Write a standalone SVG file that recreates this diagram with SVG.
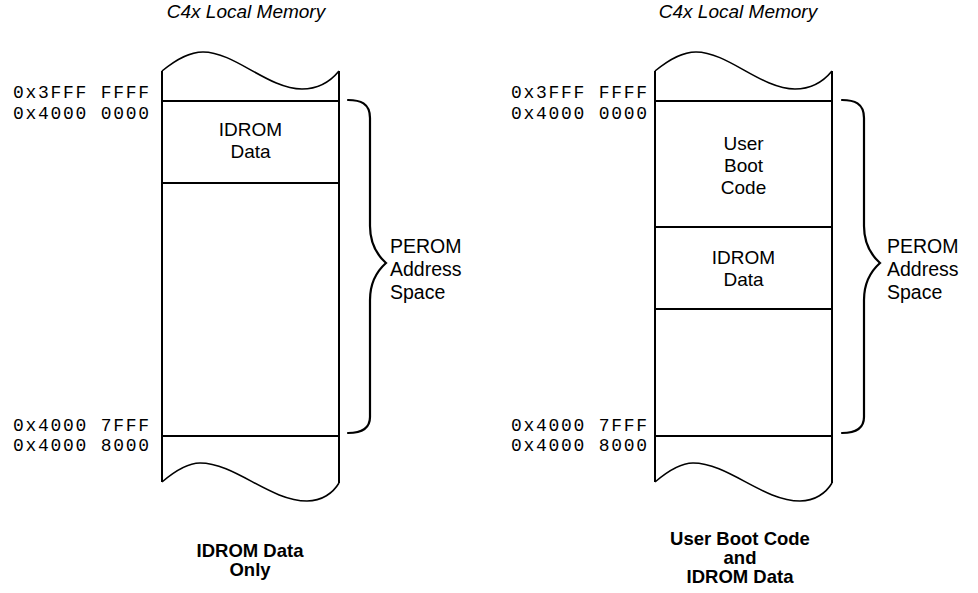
<svg xmlns="http://www.w3.org/2000/svg" width="978" height="593" viewBox="0 0 978 593">
<style>
.box{fill:none;stroke:#000;stroke-width:2}
.wave{fill:none;stroke:#000;stroke-width:1.6}
.brace{fill:none;stroke:#000;stroke-width:2.2;stroke-linecap:round}
.t{font-family:"Liberation Sans",Arial,sans-serif;font-size:19px;text-anchor:middle;fill:#000}
.side{font-family:"Liberation Sans",Arial,sans-serif;font-size:19.5px;fill:#000}
.title{font-family:"Liberation Sans",Arial,sans-serif;font-size:19px;font-style:italic;text-anchor:middle;fill:#000}
.cap{font-family:"Liberation Sans",Arial,sans-serif;font-size:18.5px;font-weight:bold;text-anchor:middle;fill:#000}
.addr{font-family:"Liberation Mono","Courier New",monospace;font-size:18px;fill:#000}
</style>
<defs>
<g id="col">
<path class="wave" d="M0,71 C16,58 28,52 41,52 C73,52 106,89 140,89 C156,89 168,82 177,71"/>
<path class="wave" d="M0,482 C14,470 26,463 38,463 C73,463 108,501 145,501 C160,501 171,493 177,483"/>
<line class="box" x1="0" y1="71" x2="0" y2="482"/>
<line class="box" x1="177" y1="71" x2="177" y2="483"/>
<line class="box" x1="0" y1="101" x2="177" y2="101"/>
<line class="box" x1="0" y1="436" x2="177" y2="436"/>
</g>
<path id="br" class="brace" d="M0,100 C12,100 22,103 22,118 L22,226 C22,244 29,255 38,263 C29,271 22,282 22,300 L22,417 C22,430 12,433 0,433"/>
</defs>

<g id="left-memory">
<use href="#col" x="162"/>
<line class="box" x1="162" y1="183" x2="339" y2="183"/>
<text class="title" x="246" y="18">C4x Local Memory</text>
<text class="t" x="250.5" y="136">IDROM</text>
<text class="t" x="250.5" y="158">Data</text>
<text class="addr" x="13" y="98" textLength="136" lengthAdjust="spacing">0x3FFF FFFF</text>
<text class="addr" x="13" y="119" textLength="136" lengthAdjust="spacing">0x4000 0000</text>
<text class="addr" x="13" y="431" textLength="136" lengthAdjust="spacing">0x4000 7FFF</text>
<text class="addr" x="13" y="451" textLength="136" lengthAdjust="spacing">0x4000 8000</text>
<text class="cap" x="250" y="557">IDROM Data</text>
<text class="cap" x="250" y="576">Only</text>
</g>

<g id="right-memory">
<use href="#col" x="655"/>
<line class="box" x1="655" y1="227" x2="832" y2="227"/>
<line class="box" x1="655" y1="309" x2="832" y2="309"/>
<text class="title" x="738" y="18">C4x Local Memory</text>
<text class="t" x="743.5" y="150">User</text>
<text class="t" x="743.5" y="172">Boot</text>
<text class="t" x="743.5" y="194">Code</text>
<text class="t" x="743.5" y="264">IDROM</text>
<text class="t" x="743.5" y="286">Data</text>
<text class="addr" x="511" y="98" textLength="136" lengthAdjust="spacing">0x3FFF FFFF</text>
<text class="addr" x="511" y="119" textLength="136" lengthAdjust="spacing">0x4000 0000</text>
<text class="addr" x="511" y="431" textLength="136" lengthAdjust="spacing">0x4000 7FFF</text>
<text class="addr" x="511" y="451" textLength="136" lengthAdjust="spacing">0x4000 8000</text>
<text class="cap" x="740" y="545">User Boot Code</text>
<text class="cap" x="740" y="564">and</text>
<text class="cap" x="740" y="583">IDROM Data</text>
</g>

<g id="left-perom">
<use href="#br" x="348"/>
<text class="side" x="390" y="253">PEROM</text>
<text class="side" x="390" y="276">Address</text>
<text class="side" x="390" y="299">Space</text>
</g>

<g id="right-perom">
<use href="#br" x="842"/>
<text class="side" x="887" y="253">PEROM</text>
<text class="side" x="887" y="276">Address</text>
<text class="side" x="887" y="299">Space</text>
</g>
</svg>
